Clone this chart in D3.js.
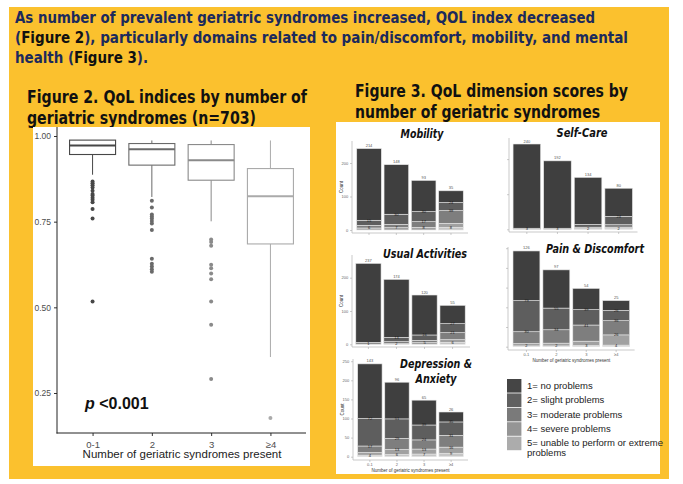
<!DOCTYPE html>
<html><head><meta charset="utf-8">
<script src="https://cdn.jsdelivr.net/npm/d3@7"></script>
<style>body{margin:0;background:#fff}svg{display:block}</style>
</head><body><svg id="c" width="683" height="484"></svg>
<script>
// ---------- DATA ----------
const groups = ["0-1", "2", "3", "≥4"];
const boxTicks = [0.25, 0.50, 0.75, 1.00];
const boxQ1 = [0.946, 0.915, 0.871, 0.685];
const boxMedian = [0.972, 0.961, 0.929, 0.824];
const boxQ3 = [0.988, 0.978, 0.975, 0.905];
const whiskerLow = [0.887, 0.822, 0.751, 0.355];
const whiskerHigh = [0.988, 0.987, 0.987, 0.987];
const outliers01 = [0.867, 0.862, 0.856, 0.850, 0.840, 0.831, 0.826, 0.820, 0.814, 0.807, 0.787, 0.759, 0.517];
const outliers2 = [0.811, 0.791, 0.771, 0.765, 0.759, 0.752, 0.745, 0.726, 0.642, 0.627, 0.619, 0.611, 0.604];
const outliers3 = [0.698, 0.691, 0.680, 0.624, 0.614, 0.599, 0.582, 0.517, 0.449, 0.291];
const outliers4 = [0.177];

const levels = ["1= no problems", "2= slight problems", "3= moderate problems", "4= severe problems", "5= unable to perform or extreme problems"];
// counts per group, levels 1..5
const mobility = [[214, 15, 8, 6, 0], [148, 30, 10, 7, 0], [93, 30, 17, 8, 0], [35, 24, 38, 12, 8]];
const selfCare = [[240, 3, 0, 0, 0], [192, 3, 0, 0, 0], [134, 8, 4, 2, 0], [80, 24, 7, 4, 2]];
const usualActivities = [[237, 5, 1, 0, 0], [174, 13, 6, 2, 0], [120, 16, 7, 5, 0], [55, 27, 21, 8, 6]];
const painDiscomfort = [[126, 79, 30, 6, 2], [97, 55, 34, 7, 2], [54, 39, 41, 11, 3], [25, 26, 36, 26, 4]];
const depressionAnxiety = [[143, 72, 17, 7, 4], [96, 51, 29, 13, 6], [65, 39, 24, 13, 7], [26, 35, 31, 16, 9]];

// ---------- DRAW ----------
const svg = d3.select("#c");
const YEL = "#FBC12E";
svg.append("rect").attr("x", 9).attr("y", 7).attr("width", 660).attr("height", 472).attr("fill", YEL);

// header
const NAVY = "#1c2a5c";
function fitText(sel, w) { sel.attr("textLength", w).attr("lengthAdjust", "spacingAndGlyphs"); }
const hdrFont = "'DejaVu Sans Condensed','DejaVu Sans',sans-serif";
const h1 = svg.append("text").attr("x", 15).attr("y", 23).attr("font-family", hdrFont).attr("font-weight", "bold").attr("font-size", 15).attr("fill", NAVY)
  .text("As number of prevalent geriatric syndromes increased, QOL index decreased");
fitText(h1, 580);
const h2 = svg.append("text").attr("x", 15).attr("y", 43).attr("font-family", hdrFont).attr("font-weight", "bold").attr("font-size", 15).attr("fill", NAVY);
h2.append("tspan").text("(");
h2.append("tspan").attr("fill", "#111").text("Figure 2");
h2.append("tspan").text("), particularly domains related to pain/discomfort, mobility, and mental");
fitText(h2, 613);
const h3 = svg.append("text").attr("x", 15).attr("y", 63).attr("font-family", hdrFont).attr("font-weight", "bold").attr("font-size", 15).attr("fill", NAVY);
h3.append("tspan").text("health (");
h3.append("tspan").attr("fill", "#111").text("Figure 3");
h3.append("tspan").text(").");
fitText(h3, 133);

// figure headings
const f2a = svg.append("text").attr("x", 27).attr("y", 103).attr("font-family", hdrFont).attr("font-weight", "bold").attr("font-size", 18).attr("fill", "#111").text("Figure 2. QoL indices by number of");
fitText(f2a, 280);
const f2b = svg.append("text").attr("x", 27).attr("y", 124).attr("font-family", hdrFont).attr("font-weight", "bold").attr("font-size", 18).attr("fill", "#111").text("geriatric syndromes (n=703)");
fitText(f2b, 229);
const f3a = svg.append("text").attr("x", 355).attr("y", 97).attr("font-family", hdrFont).attr("font-weight", "bold").attr("font-size", 18).attr("fill", "#111").text("Figure 3. QoL dimension scores by");
fitText(f3a, 273);
const f3b = svg.append("text").attr("x", 355).attr("y", 118).attr("font-family", hdrFont).attr("font-weight", "bold").attr("font-size", 18).attr("fill", "#111").text("number of geriatric syndromes");
fitText(f3b, 245);

// ---------- Figure 2 boxplot ----------
svg.append("rect").attr("x", 33).attr("y", 127).attr("width", 277).attr("height", 339).attr("fill", "#fff");
const bx = d3.scalePoint().domain(groups).range([57, 306]).padding(0.6);
const by = d3.scaleLinear().domain([0.25, 1.0]).range([393, 136]);
const boxCol = ["#474747", "#6a6a6a", "#8a8a8a", "#aaaaaa"];
const outl = [outliers01, outliers2, outliers3, outliers4];
const bw = 46;
const gBox = svg.append("g");
groups.forEach((g, i) => {
  const cx = bx(g), c = boxCol[i];
  gBox.append("line").attr("x1", cx).attr("x2", cx).attr("y1", by(whiskerHigh[i])).attr("y2", by(boxQ3[i])).attr("stroke", c).attr("stroke-width", 1);
  gBox.append("line").attr("x1", cx).attr("x2", cx).attr("y1", by(boxQ1[i])).attr("y2", by(whiskerLow[i])).attr("stroke", c).attr("stroke-width", 1);
  gBox.append("rect").attr("x", cx - bw / 2).attr("y", by(boxQ3[i])).attr("width", bw).attr("height", by(boxQ1[i]) - by(boxQ3[i]))
    .attr("fill", "#fff").attr("stroke", c).attr("stroke-width", 1.1);
  gBox.append("line").attr("x1", cx - bw / 2).attr("x2", cx + bw / 2).attr("y1", by(boxMedian[i])).attr("y2", by(boxMedian[i])).attr("stroke", c).attr("stroke-width", 2);
  gBox.selectAll(null).data(outl[i]).join("circle").attr("cx", cx).attr("cy", d => by(d)).attr("r", 2).attr("fill", c);
});
// axes
const axFont = "'Liberation Sans',Arial,sans-serif";
const yAx = svg.append("g").attr("transform", "translate(57,0)").call(d3.axisLeft(by).tickValues(boxTicks).tickFormat(d3.format(".2f")).tickSize(3));
yAx.select(".domain").remove();
yAx.selectAll("line").attr("stroke", "#333");
yAx.selectAll("text").attr("font-family", axFont).attr("font-size", 8.5).attr("fill", "#4d4d4d");
const xAx = svg.append("g").attr("transform", "translate(0,433)").call(d3.axisBottom(bx).tickSize(3));
xAx.select(".domain").remove();
xAx.selectAll("line").attr("stroke", "#333");
xAx.selectAll("text").attr("font-family", axFont).attr("font-size", 9.5).attr("fill", "#4d4d4d").attr("dy", "0.9em");
svg.append("line").attr("x1", 57).attr("x2", 57).attr("y1", 127).attr("y2", 433.5).attr("stroke", "#222").attr("stroke-width", 1);
svg.append("line").attr("x1", 56.5).attr("x2", 306).attr("y1", 433).attr("y2", 433).attr("stroke", "#222").attr("stroke-width", 1);
svg.append("text").attr("x", 182).attr("y", 458).attr("text-anchor", "middle").attr("font-family", axFont).attr("font-size", 11.5).attr("fill", "#222")
  .text("Number of geriatric syndromes present");
const pt = svg.append("text").attr("x", 85).attr("y", 409).attr("font-family", axFont).attr("font-weight", "bold").attr("font-size", 16).attr("fill", "#111");
pt.append("tspan").attr("font-style", "italic").text("p");
pt.append("tspan").text(" <0.001");

// ---------- Figure 3 ----------
svg.append("rect").attr("x", 336).attr("y", 122).attr("width", 324).attr("height", 352).attr("fill", "#fff");
const fills = ["#3f3f3f", "#5e5e5e", "#7e7e7e", "#a1a1a1", "#c6c6c6"];
const panels = [
  { data: mobility, title: ["Mobility"], tw: [43], tx: 422, ty: 138, axisX: 352, top: 141, bottom: 233, base: 230, k: 0.335, xr: [354, 466], ticks: [0, 100, 200], ylab: true, xlab: false },
  { data: selfCare, title: ["Self-Care"], tw: [51], tx: 582, ty: 137, axisX: 509, top: 138, bottom: 232, base: 229.3, k: 0.351, xr: [510, 635.5], ticks: [0, 100, 200], ylab: false, xlab: false },
  { data: usualActivities, title: ["Usual Activities"], tw: [84], tx: 425, ty: 258, axisX: 352, top: 255, bottom: 347, base: 344.3, k: 0.333, xr: [353, 468], ticks: [0, 100, 200], ylab: true, xlab: false },
  { data: painDiscomfort, title: ["Pain & Discomfort"], tw: [98], tx: 595, ty: 253, axisX: 508, top: 247, bottom: 350, base: 346.7, k: 0.394, xr: [510, 632.6], ticks: [0, 50, 100, 150, 200, 250], ylab: false, xlab: true },
  { data: depressionAnxiety, title: ["Depression &", "Anxiety"], tw: [72, 41], tx: 436, ty: 368, axisX: 353, top: 359, bottom: 460, base: 456.7, k: 0.382, xr: [355, 466], ticks: [0, 50, 100, 150, 200, 250], ylab: true, xlab: true }
];
const stack = d3.stack().keys([4, 3, 2, 1, 0]);
panels.forEach(p => {
  const g = svg.append("g");
  const y = d3.scaleLinear().domain([0, 250]).range([p.base, p.base - 250 * p.k]);
  const x = d3.scaleBand().domain(groups).range(p.xr).paddingInner(0.1).paddingOuter(0.1);
  const rows = p.data.map(r => ({ 0: r[0], 1: r[1], 2: r[2], 3: r[3], 4: r[4] }));
  const series = stack(rows);
  series.forEach(s => {
    const lev = s.key;
    g.selectAll(null).data(s).join("rect")
      .attr("x", (d, i) => x(groups[i])).attr("width", x.bandwidth())
      .attr("y", d => y(d[1])).attr("height", d => y(d[0]) - y(d[1]))
      .attr("fill", fills[lev]).attr("stroke", "#e6e6e6").attr("stroke-width", 0.6);
  });
  // segment labels: bottom to top, skip ones that would collide
  groups.forEach((grp, i) => {
    let lastY = Infinity;
    series.forEach(s => {
      const d = s[i], lev = s.key, v = d[1] - d[0];
      if (v <= 0) return;
      const ly = y(d[1]) + (lev === 0 ? -1.5 : 1.5);
      if (lastY - ly < 4.6) return;
      lastY = ly;
      g.append("text").attr("x", x(grp) + x.bandwidth() / 2).attr("y", ly)
        .attr("text-anchor", "middle").attr("font-family", axFont).attr("font-size", 4)
        .attr("fill", lev === 0 ? "#555" : "#1a1a1a").text(v);
    });
  });
  // axes
  g.append("line").attr("x1", p.axisX).attr("x2", p.axisX).attr("y1", p.top).attr("y2", p.bottom).attr("stroke", "#bbb").attr("stroke-width", 0.8);
  g.append("line").attr("x1", p.axisX).attr("x2", p.xr[1] + 2).attr("y1", p.bottom).attr("y2", p.bottom).attr("stroke", "#bbb").attr("stroke-width", 0.8);
  const ya = g.append("g").attr("transform", `translate(${p.axisX},0)`).call(d3.axisLeft(y).tickValues(p.ticks).tickSize(2).tickFormat(p.ylab ? d3.format("d") : () => ""));
  ya.select(".domain").remove();
  ya.selectAll("line").attr("stroke", "#aaa").attr("stroke-width", 0.6);
  ya.selectAll("text").attr("font-family", axFont).attr("font-size", 4).attr("fill", "#666").attr("dx", "0.3em");
  const xa = g.append("g").attr("transform", `translate(0,${p.bottom})`).call(d3.axisBottom(x).tickSize(2).tickFormat(p.xlab ? (d => d) : () => ""));
  xa.select(".domain").remove();
  xa.selectAll("line").attr("stroke", "#aaa").attr("stroke-width", 0.6);
  xa.selectAll("text").attr("font-family", axFont).attr("font-size", 4).attr("fill", "#666").attr("dy", "0.2em");
  if (p.ylab) {
    g.append("text").attr("transform", `translate(${p.axisX - 9},${(p.top + p.bottom) / 2}) rotate(-90)`).attr("text-anchor", "middle")
      .attr("font-family", axFont).attr("font-size", 4.5).attr("fill", "#333").text("Count");
  }
  if (p.xlab) {
    g.append("text").attr("x", (p.xr[0] + p.xr[1]) / 2).attr("y", p.bottom + 12).attr("text-anchor", "middle")
      .attr("font-family", axFont).attr("font-size", 4.5).attr("fill", "#333").text("Number of geriatric syndromes present");
  }
  p.title.forEach((t, i) => {
    const tt = g.append("text").attr("x", p.tx - p.tw[i] / 2).attr("y", p.ty + i * 15)
      .attr("font-family", "'DejaVu Sans',sans-serif").attr("font-weight", "bold").attr("font-style", "italic").attr("font-size", 12.5).attr("fill", "#111")
      .text(t);
    fitText(tt, p.tw[i]);
  });
});

// legend
const lg = svg.append("g");
levels.forEach((l, i) => {
  lg.append("rect").attr("x", 507).attr("y", 379 + i * 14.4).attr("width", 14.4).attr("height", 13.6)
    .attr("fill", ["#454545", "#606060", "#7a7a7a", "#959595", "#acacac"][i]);
});
const legLines = [[levels[0]], [levels[1]], [levels[2]], [levels[3]], ["5= unable to perform or extreme", "problems"]];
const legY = [389, 403, 417.5, 431.5, 446];
legLines.forEach((ls, i) => {
  ls.forEach((t, j) => {
    lg.append("text").attr("x", 527).attr("y", legY[i] + j * 10).attr("font-family", axFont).attr("font-size", 9.5).attr("fill", "#222").text(t);
  });
});
</script></body></html>
